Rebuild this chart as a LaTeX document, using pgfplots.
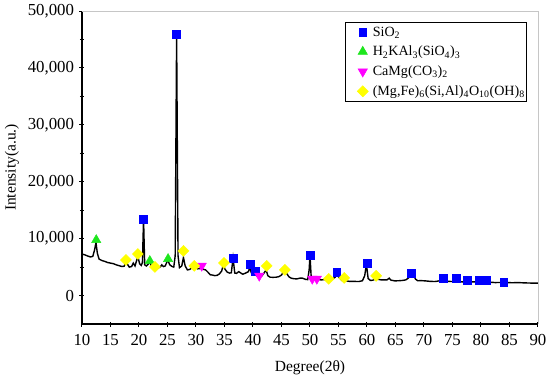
\documentclass[border=0pt]{standalone}
\usepackage{fontspec}
\setmainfont{Liberation Serif}
\usepackage{pgfplots}
\pgfplotsset{compat=1.18}
\definecolor{mgreen}{RGB}{30,230,30}
\definecolor{myellow}{RGB}{255,255,0}
\definecolor{mmag}{RGB}{255,0,255}
\definecolor{mblue}{RGB}{0,0,255}
\begin{document}
\begin{tikzpicture}
\begin{axis}[
  at={(0pt,0pt)}, anchor=south west,
  scale only axis, width=456pt, height=313pt,
  xmin=10, xmax=90, ymin=-5000, ymax=50000,
  axis x line*=bottom, axis y line*=left,
  axis line style={line width=1.3pt, -},
  xtick={10,15,...,90},
  ytick={0,10000,20000,30000,40000,50000},
  minor y tick num=1,
  tick align=center,
  major tick length=5pt, minor tick length=4pt,
  tick style={line width=1pt, black},
  /pgf/number format/assume math mode=true,
  /pgf/number format/.cd, fixed, 1000 sep={,}, /pgfplots/.cd,
  scaled y ticks=false,
  tick label style={font=\fontsize{16.8}{19}\selectfont},
  xticklabel style={yshift=-4pt},
  yticklabel style={xshift=-2pt},
  xlabel={Degree(2θ)}, ylabel={Intensity(a.u.)},
  label style={font=\fontsize{15.5}{18}\selectfont},
  xlabel style={at={(axis description cs:0.5,-0.14)}, anchor=center},
  ylabel style={at={(axis description cs:-0.1535,0.5)}, anchor=center},
  legend style={at={(rel axis cs:0.976,0.965)}, anchor=north east,
    draw=black, line width=0.6pt, font=\fontsize{14.1}{16}\selectfont,
    inner xsep=0pt, inner ysep=2.5pt, row sep=4.5pt,
    nodes={inner sep=2pt}},
  legend cell align=left,
  legend image code/.code={\path[draw=none,fill=none] (0pt,-3pt) rectangle (25pt,3pt); \draw[#1] plot coordinates {(17pt,0pt)};},
  clip=false,
]
\draw[gray!45, line width=0.8pt] (rel axis cs:0,1) -- (rel axis cs:1,1) -- (rel axis cs:1,0);
\addplot[black, line width=1.4pt, forget plot] coordinates {
(10.0,7300)(10.5,7150)(11.0,6950)(11.5,6780)(11.9,6900)(12.2,8000)(12.45,9300)(12.7,7400)(13.0,6400)(13.5,6150)
(14.0,6000)(14.5,5800)(15.0,5700)(15.5,5600)(16.0,5400)(16.5,5250)(17.0,5100)(17.4,5150)(17.7,5900)(17.9,5600)
(18.3,5000)(18.7,5100)(19.0,5700)(19.3,5200)(19.6,6200)(19.8,6900)(20.1,5600)(20.4,5300)(20.6,5800)(20.8,13450)
(21.0,5400)(21.3,5200)(21.6,5500)(21.9,5900)(22.2,5100)(22.6,4900)(23.0,4800)(23.4,4850)(23.8,5100)(24.0,5400)
(24.3,5100)(24.6,5200)(24.9,5900)(25.1,6100)(25.4,5400)(25.8,5100)(26.1,5000)(26.35,7000)(26.6,45900)(26.85,7000)
(27.1,4900)(27.5,5200)(27.8,6700)(28.1,5200)(28.5,4500)(28.9,4600)(29.2,4800)(29.6,5100)(29.9,5000)(30.3,4700)
(30.7,4750)(31.0,4900)(31.3,4600)(31.7,4500)(32.1,4100)(32.5,3650)(32.9,3600)(33.3,3500)(33.7,3550)(34.1,3800)
(34.5,4300)(34.8,5400)(35.1,4600)(35.5,4100)(35.9,3950)(36.2,4000)(36.5,6600)(36.8,3950)(37.1,3900)(37.5,4200)
(37.8,4000)(38.2,3750)(38.6,3900)(38.9,4050)(39.2,4200)(39.45,5000)(39.7,4000)(40.0,3900)(40.3,4400)(40.6,3500)
(41.0,3250)(41.5,3400)(41.9,3900)(42.3,4500)(42.6,3500)(43.0,3220)(43.5,3200)(44.0,3220)(44.5,3300)(45.0,3600)
(45.3,4100)(45.6,4300)(45.9,3900)(46.3,3300)(46.7,3050)(47.2,2950)(47.7,2930)(48.2,3050)(48.7,3050)(49.2,2850)
(49.6,2800)(49.85,4500)(50.0,7100)(50.2,3400)(50.5,2900)(51.0,2850)(51.5,2800)(52.0,2750)(52.5,2800)(53.0,2850)
(53.5,2850)(54.0,2950)(54.4,3200)(54.7,3800)(55.0,3300)(55.6,2650)(56.2,2600)(57.0,2480)(57.8,2480)(58.6,2470)
(59.2,2600)(59.6,3500)(59.9,5500)(60.2,3000)(60.6,2650)(61.0,2700)(61.5,2900)(62.0,2850)(62.5,2750)(63.0,2750)
(63.5,2750)(63.9,3050)(64.2,2700)(64.9,2580)(65.5,2600)(66.2,2650)(66.8,2750)(67.3,3100)(67.6,3900)(67.9,3300)
(68.2,3600)(68.5,2900)(68.9,2600)(69.5,2620)(70.2,2580)(71.0,2500)(71.9,2460)(72.5,2550)(72.9,2650)(73.5,2600)
(74.0,2520)(74.9,2460)(75.5,2500)(76.2,2450)(77.2,2350)(78.0,2380)(79.0,2400)(80.0,2420)(80.7,2460)(81.5,2350)
(82.5,2280)(83.5,2300)(84.5,2280)(85.5,2250)(86.5,2280)(87.5,2230)(88.5,2200)(89.8,2170)(90.0,2170)
};
\addplot[only marks, mark=square*, mark size=3.9pt, color=mblue] coordinates {
(26.5,45900)(20.8,13450)(36.5,6600)(39.5,5560)(40.4,4330)(50.0,7140)(54.7,4160)(60.0,5740)(67.7,3980)
(73.3,3100)(75.6,3100)(77.6,2750)(79.7,2750)(81.0,2750)(84.0,2400)};
\addlegendentry{SiO\textsubscript{2}}
\addplot[only marks, mark=triangle*, mark size=5.4pt, color=mgreen] coordinates {
(12.5,9770)(21.9,6090)(25.1,6440)};
\addlegendentry{H\textsubscript{2}KAl\textsubscript{3}(SiO\textsubscript{4})\textsubscript{3}}
\addplot[only marks, mark=triangle*, mark size=5.4pt, color=mmag, mark options={rotate=180}] coordinates {
(31.0,5210)(41.1,3460)(50.4,2930)(51.2,2930)};
\addlegendentry{CaMg(CO\textsubscript{3})\textsubscript{2}}
\addplot[only marks, mark=square*, mark size=3.9pt, color=myellow, mark options={rotate=45}] coordinates {
(17.7,6260)(19.8,7310)(22.8,5030)(27.8,7840)(29.7,5210)(34.9,5740)(42.4,5210)(45.6,4510)(53.3,2930)(56.0,3100)(61.6,3460)};
\addlegendentry{(Mg,Fe)\textsubscript{6}(Si,Al)\textsubscript{4}O\textsubscript{10}(OH)\textsubscript{8}}
\end{axis}
\pgfresetboundingbox
\path (-82pt,-57pt) rectangle (468pt,324pt);
\end{tikzpicture}
\end{document}
